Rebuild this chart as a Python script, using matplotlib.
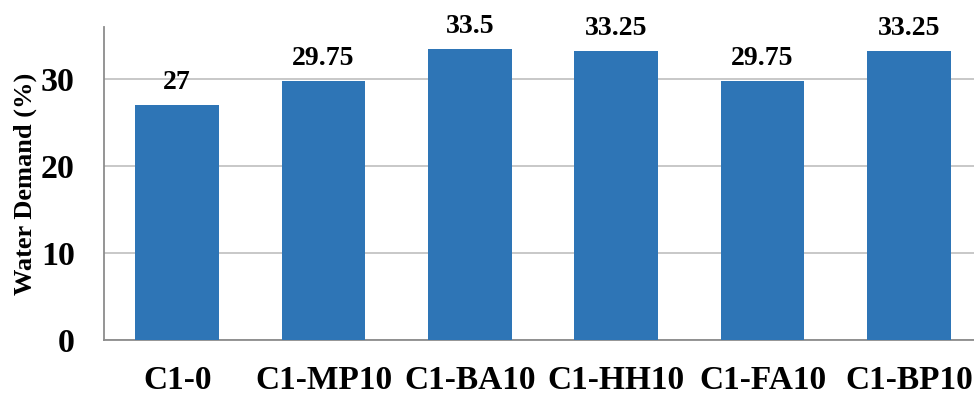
import matplotlib
matplotlib.use("Agg")
import matplotlib.pyplot as plt

categories = ["C1-0", "C1-MP10", "C1-BA10", "C1-HH10", "C1-FA10", "C1-BP10"]
water_demand = [27, 29.75, 33.5, 33.25, 29.75, 33.25]
value_labels = ["27", "29.75", "33.5", "33.25", "29.75", "33.25"]
y_ticks = [0, 10, 20, 30]

plt.rcParams["font.family"] = ["Liberation Serif", "DejaVu Serif"]
plt.rcParams["font.weight"] = "bold"

fig = plt.figure(figsize=(9.74, 3.96), dpi=100)
ax = fig.add_axes([104 / 974, 56 / 396, (982 - 104) / 974, (340 - 27) / 396])

x = range(len(categories))
bars = ax.bar(x, water_demand, width=0.57, color="#2E75B6", zorder=3)

for rect, lab in zip(bars, value_labels):
    ax.text(rect.get_x() + rect.get_width() / 2, rect.get_height() + 1.85, lab,
            ha="center", va="baseline", fontsize=20, fontweight="bold", zorder=4)

ax.set_xlim(-0.5, len(categories) - 0.5)
ax.set_ylim(0, 36)
ax.set_yticks(y_ticks)
ax.set_xticks(list(x))
ax.set_xticklabels(categories)
ax.tick_params(axis="y", length=0, pad=21, labelsize=24.5)
ax.tick_params(axis="x", length=0, pad=18, labelsize=24)
for t in ax.get_xticklabels() + ax.get_yticklabels():
    t.set_fontweight("bold")

ax.yaxis.grid(True, color="#BFBFBF", linewidth=1.2, zorder=0)
ax.set_axisbelow(True)

for side in ("top", "right"):
    ax.spines[side].set_visible(False)
for side in ("left", "bottom"):
    ax.spines[side].set_color("#8C8C8C")
    ax.spines[side].set_linewidth(1.3)

ax.set_ylabel("Water Demand (%)", fontsize=19, fontweight="bold", labelpad=3)

fig.savefig("out.png", dpi=100)
